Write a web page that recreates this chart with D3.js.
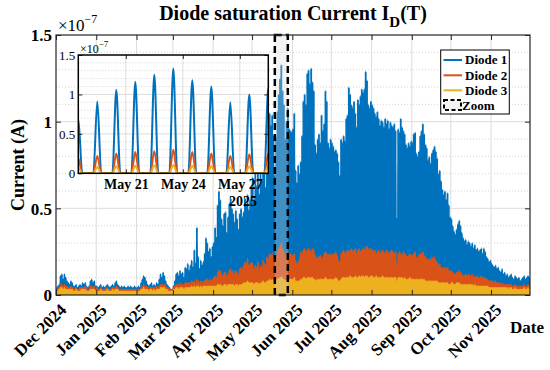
<!DOCTYPE html>
<html><head><meta charset="utf-8">
<script src="https://cdn.jsdelivr.net/npm/d3@7"></script>
<style>
body{margin:0;background:#fff}
svg{display:block}
svg text{font-family:"Liberation Serif" !important;fill:#000}
</style>
</head><body>
<svg id="chart" width="550" height="370"></svg>
<script>
// ---------------- data (current values in units of 1e-7 A, daily peak) ----------------
const monthLabels = ["Dec 2024","Jan 2025","Feb 2025","Mar 2025","Apr 2025","May 2025","Jun 2025","Jul 2025","Aug 2025","Sep 2025","Oct 2025","Nov 2025"];
const seriesNames = ["Diode 1","Diode 2","Diode 3"];
const diode1 = [
 [0.04,0.05,0.06,0.11,0.12,0.09,0.12,0.10,0.08,0.07,0.06,0.08,0.07,0.05,0.05,0.06,0.04,0.05,0.06,0.05,0.07,0.06,0.07,0.05,0.04,0.05,0.08,0.09,0.07,0.08,0.05],
 [0.05,0.04,0.05,0.06,0.04,0.05,0.04,0.05,0.06,0.05,0.04,0.05,0.06,0.05,0.07,0.08,0.06,0.05,0.04,0.05,0.04,0.05,0.04,0.04,0.05,0.04,0.05,0.04,0.04,0.05,0.04],
 [0.04,0.05,0.04,0.07,0.09,0.11,0.10,0.08,0.06,0.05,0.06,0.07,0.05,0.06,0.05,0.07,0.06,0.09,0.12,0.10,0.13,0.11,0.08,0.06,0.05,0.04,0.03,0.03],
 [0.05,0.08,0.12,0.13,0.11,0.14,0.12,0.13,0.10,0.16,0.15,0.18,0.14,0.17,0.20,0.16,0.26,0.18,0.39,0.22,0.15,0.20,0.17,0.19,0.24,0.33,0.30,0.25,0.27,0.22,0.28],
 [0.30,0.39,0.33,0.52,0.60,0.55,0.44,0.40,0.47,0.48,0.36,0.45,0.53,0.56,0.50,0.47,0.42,0.49,0.44,0.38,0.47,0.50,0.45,0.48,0.56,0.52,0.58,0.49,0.55,0.62],
 [0.68,0.55,0.72,0.63,0.80,0.58,0.75,0.66,0.85,0.70,0.62,0.88,0.80,1.05,0.98,1.04,0.92,0.69,0.91,1.06,1.16,1.25,1.33,1.18,1.10,0.90,1.00,1.08,0.96,0.95,0.94],
 [0.96,1.05,0.72,0.65,0.75,0.70,0.77,0.92,1.12,1.16,1.10,1.28,1.30,1.22,1.31,1.23,1.18,0.87,0.82,0.90,0.93,0.88,1.04,0.95,0.99,1.18,1.12,0.88,0.85,0.90],
 [0.88,0.86,0.83,0.84,0.82,0.77,0.69,0.90,0.88,0.92,0.89,1.02,1.04,1.20,1.16,1.10,1.08,1.12,1.05,0.97,1.13,1.10,1.15,1.19,1.17,1.19,1.29,1.24,1.10,1.08,1.12],
 [1.10,1.08,1.05,1.03,1.06,1.02,0.98,1.01,1.00,0.97,1.02,0.99,1.01,0.96,1.00,0.98,0.97,0.99,0.95,0.44,0.96,0.94,1.02,0.97,0.95,0.93,0.87,0.85,0.88,0.86,0.89],
 [0.88,0.93,0.94,0.82,0.80,0.83,0.92,0.95,0.99,0.93,0.87,0.85,0.78,0.80,0.76,0.82,0.84,0.86,0.83,0.79,0.70,0.72,0.66,0.61,0.58,0.60,0.55,0.59,0.52,0.45],
 [0.44,0.40,0.37,0.35,0.38,0.41,0.43,0.40,0.36,0.33,0.31,0.32,0.29,0.31,0.30,0.28,0.30,0.27,0.29,0.26,0.27,0.25,0.26,0.27,0.24,0.27,0.25,0.22,0.21,0.19,0.20],
 [0.18,0.17,0.16,0.17,0.15,0.16,0.14,0.13,0.15,0.12,0.13,0.11,0.12,0.10,0.11,0.12,0.10,0.09,0.11,0.10,0.09,0.10,0.08,0.09,0.10,0.11,0.09,0.10,0.11,0.10]
];
const diode2 = [
 [0.03,0.04,0.04,0.06,0.06,0.05,0.06,0.05,0.05,0.04,0.04,0.05,0.04,0.03,0.04,0.04,0.03,0.03,0.04,0.04,0.04,0.04,0.05,0.04,0.03,0.03,0.05,0.05,0.04,0.05,0.03],
 [0.04,0.03,0.03,0.04,0.03,0.03,0.03,0.04,0.04,0.03,0.03,0.03,0.04,0.04,0.04,0.05,0.04,0.03,0.03,0.03,0.03,0.03,0.03,0.03,0.03,0.03,0.03,0.03,0.03,0.03,0.03],
 [0.03,0.03,0.03,0.04,0.05,0.06,0.05,0.05,0.04,0.04,0.04,0.04,0.04,0.04,0.04,0.05,0.04,0.05,0.06,0.06,0.06,0.06,0.05,0.04,0.04,0.03,0.03,0.03],
 [0.04,0.05,0.06,0.06,0.06,0.07,0.06,0.06,0.06,0.07,0.07,0.07,0.07,0.07,0.08,0.07,0.08,0.07,0.09,0.08,0.07,0.08,0.07,0.08,0.08,0.09,0.09,0.08,0.09,0.08,0.09],
 [0.10,0.11,0.10,0.13,0.14,0.14,0.12,0.11,0.13,0.13,0.11,0.12,0.14,0.15,0.13,0.14,0.12,0.14,0.13,0.12,0.15,0.16,0.15,0.17,0.19,0.18,0.21,0.17,0.18,0.19],
 [0.18,0.15,0.17,0.16,0.19,0.15,0.17,0.16,0.20,0.18,0.17,0.22,0.21,0.24,0.23,0.24,0.22,0.19,0.22,0.25,0.27,0.28,0.30,0.27,0.25,0.22,0.24,0.25,0.23,0.24,0.23],
 [0.23,0.24,0.20,0.18,0.19,0.21,0.25,0.24,0.26,0.27,0.25,0.26,0.27,0.26,0.25,0.27,0.26,0.23,0.21,0.22,0.22,0.23,0.21,0.22,0.24,0.25,0.24,0.23,0.24,0.23],
 [0.24,0.23,0.24,0.25,0.23,0.20,0.19,0.24,0.25,0.26,0.24,0.25,0.26,0.25,0.26,0.27,0.25,0.26,0.27,0.24,0.26,0.27,0.25,0.26,0.27,0.26,0.28,0.28,0.27,0.26,0.27],
 [0.26,0.25,0.26,0.24,0.25,0.26,0.24,0.25,0.26,0.25,0.24,0.26,0.25,0.24,0.25,0.26,0.25,0.24,0.25,0.18,0.24,0.25,0.24,0.23,0.25,0.24,0.23,0.22,0.23,0.24,0.23],
 [0.23,0.24,0.25,0.22,0.21,0.23,0.24,0.24,0.25,0.23,0.22,0.21,0.20,0.21,0.20,0.22,0.21,0.22,0.20,0.19,0.17,0.18,0.16,0.16,0.15,0.16,0.15,0.16,0.14,0.14],
 [0.14,0.13,0.12,0.12,0.13,0.13,0.14,0.13,0.12,0.11,0.11,0.12,0.11,0.12,0.11,0.11,0.12,0.10,0.11,0.10,0.11,0.10,0.10,0.11,0.10,0.10,0.10,0.09,0.09,0.08,0.08],
 [0.08,0.08,0.07,0.08,0.07,0.07,0.07,0.06,0.07,0.06,0.06,0.06,0.06,0.06,0.06,0.06,0.05,0.05,0.06,0.05,0.05,0.05,0.05,0.05,0.05,0.06,0.05,0.05,0.06,0.05]
];
const diode3 = [
 [0.02,0.02,0.03,0.04,0.04,0.03,0.04,0.03,0.03,0.03,0.03,0.03,0.03,0.02,0.02,0.03,0.02,0.02,0.02,0.03,0.03,0.03,0.03,0.02,0.02,0.02,0.03,0.03,0.03,0.03,0.02],
 [0.02,0.02,0.02,0.03,0.02,0.02,0.02,0.02,0.03,0.02,0.02,0.02,0.03,0.02,0.03,0.03,0.03,0.02,0.02,0.02,0.02,0.02,0.02,0.02,0.02,0.02,0.02,0.02,0.02,0.02,0.02],
 [0.02,0.02,0.02,0.03,0.03,0.04,0.03,0.03,0.03,0.02,0.03,0.03,0.02,0.03,0.02,0.03,0.03,0.03,0.04,0.04,0.04,0.04,0.03,0.03,0.02,0.02,0.02,0.02],
 [0.03,0.03,0.04,0.04,0.03,0.04,0.04,0.04,0.03,0.04,0.04,0.04,0.04,0.04,0.05,0.04,0.05,0.04,0.05,0.05,0.04,0.05,0.04,0.05,0.05,0.05,0.05,0.05,0.05,0.05,0.05],
 [0.05,0.05,0.05,0.06,0.06,0.06,0.05,0.05,0.06,0.06,0.05,0.06,0.06,0.06,0.06,0.06,0.05,0.06,0.06,0.05,0.06,0.06,0.06,0.07,0.07,0.07,0.08,0.07,0.07,0.07],
 [0.07,0.06,0.07,0.07,0.07,0.06,0.07,0.07,0.08,0.07,0.07,0.08,0.08,0.09,0.08,0.09,0.08,0.07,0.08,0.09,0.095,0.10,0.105,0.095,0.09,0.08,0.085,0.09,0.09,0.09,0.09],
 [0.09,0.10,0.08,0.08,0.08,0.08,0.09,0.09,0.10,0.10,0.09,0.10,0.10,0.10,0.10,0.10,0.09,0.09,0.08,0.09,0.09,0.09,0.09,0.09,0.09,0.10,0.09,0.09,0.09,0.09],
 [0.09,0.09,0.09,0.10,0.09,0.08,0.08,0.09,0.10,0.10,0.10,0.10,0.10,0.10,0.11,0.10,0.10,0.10,0.11,0.10,0.10,0.11,0.10,0.11,0.11,0.10,0.11,0.11,0.10,0.10,0.11],
 [0.11,0.10,0.10,0.11,0.10,0.10,0.10,0.10,0.11,0.10,0.10,0.10,0.10,0.10,0.10,0.10,0.10,0.10,0.10,0.08,0.10,0.10,0.10,0.10,0.09,0.10,0.09,0.09,0.09,0.10,0.09],
 [0.09,0.09,0.09,0.09,0.09,0.09,0.09,0.09,0.09,0.09,0.08,0.08,0.08,0.08,0.08,0.08,0.08,0.08,0.08,0.08,0.07,0.07,0.07,0.07,0.07,0.07,0.07,0.07,0.06,0.06],
 [0.07,0.07,0.06,0.06,0.07,0.07,0.07,0.06,0.06,0.06,0.06,0.06,0.06,0.06,0.06,0.06,0.06,0.05,0.06,0.05,0.05,0.05,0.05,0.05,0.05,0.05,0.05,0.05,0.05,0.04,0.04],
 [0.04,0.04,0.04,0.04,0.04,0.04,0.04,0.04,0.04,0.04,0.04,0.04,0.04,0.03,0.04,0.04,0.03,0.03,0.04,0.03,0.03,0.03,0.03,0.03,0.03,0.04,0.03,0.03,0.04,0.03]
];
// daily cycle sample points: hour of day and fraction of the day's peak (night = 0)
const dayHours = [0, 7, 12, 17];
const dayFraction = [0, 0, 1, 0];
const yTickValues = [0, 0.5, 1, 1.5];
const yTickLabels = ["0", "0.5", "1", "1.5"];
const insetTickDates = ["2025-05-21", "2025-05-24", "2025-05-27"];
const insetTickLabels = ["May 21", "May 24", "May 27"];
const zoomRange = ["2025-05-18T12:00:00Z", "2025-05-28T12:00:00Z"];
const colors = ["#0072BD", "#D95319", "#EDB120"];

// ---------------- helpers ----------------
const HOUR = 3600e3, DAY = 24 * HOUR;
const t0 = Date.UTC(2024, 11, 1), t1 = Date.UTC(2025, 11, 1);
function buildPoints(months) {
  const pts = [];
  months.forEach((vals, m) => {
    vals.forEach((v, d) => {
      const day = Date.UTC(2024, 11 + m, d + 1);
      dayHours.forEach((h, k) => pts.push([day + h * HOUR, v * dayFraction[k]]));
    });
  });
  pts.push([t1, 0]);
  return pts;
}
const series = [diode1, diode2, diode3].map(buildPoints);
const FONT = '"Liberation Serif"';

const svg = d3.select("#chart");
const M = {l: 56, r: 530, t: 35, b: 295};
const x = d3.scaleUtc().domain([t0, t1]).range([M.l, M.r]);
const y = d3.scaleLinear().domain([0, 1.5]).range([M.b, M.t]);
const defs = svg.append("defs");
defs.append("clipPath").attr("id", "clipMain").append("rect")
  .attr("x", M.l).attr("y", M.t).attr("width", M.r - M.l).attr("height", M.b - M.t);
const minorVals = d3.range(1, 15).map(i => i / 10).filter(v => Math.abs(v * 2 - Math.round(v * 2)) > 1e-6);

// grid
const grid = svg.append("g");
const monthDates = monthLabels.map((_, i) => Date.UTC(2024, 11 + i, 1));
grid.selectAll(".minor").data(minorVals)
  .join("line").attr("x1", M.l).attr("x2", M.r).attr("y1", d => y(d)).attr("y2", d => y(d))
  .attr("stroke", "#c8c8c8").attr("stroke-width", 0.8).attr("stroke-dasharray", "1,2");
grid.selectAll(".hmaj").data(yTickValues.slice(1, 3)).join("line")
  .attr("x1", M.l).attr("x2", M.r).attr("y1", d => y(d)).attr("y2", d => y(d))
  .attr("stroke", "#dcdcdc").attr("stroke-width", 1);
grid.selectAll(".vmaj").data(monthDates.slice(1)).join("line")
  .attr("x1", d => x(d)).attr("x2", d => x(d)).attr("y1", M.t).attr("y2", M.b)
  .attr("stroke", "#dcdcdc").attr("stroke-width", 1);

// data main
const lineMain = d3.line().x(d => x(d[0])).y(d => y(d[1])).curve(d3.curveMonotoneX);
const gMain = svg.append("g").attr("clip-path", "url(#clipMain)");
series.forEach((s, i) => {
  gMain.append("path").attr("d", lineMain(s)).attr("fill", "none")
    .attr("stroke", colors[i]).attr("stroke-width", 1.9).attr("stroke-linejoin", "round");
});

// zoom rectangle
const zr = zoomRange.map(d => new Date(d).getTime());
svg.append("rect").attr("x", x(zr[0])).attr("y", M.t).attr("width", x(zr[1]) - x(zr[0])).attr("height", M.b - M.t)
  .attr("fill", "rgb(215,215,215)").attr("fill-opacity", 0.3)
  .attr("stroke", "#000").attr("stroke-width", 2.5).attr("stroke-dasharray", "7,4");

// main axes ticks
const axG = svg.append("g");
const xb = axG.append("g").attr("transform", `translate(0,${M.b})`)
  .call(d3.axisBottom(x).tickValues(monthDates).tickSize(-5).tickFormat((d, i) => monthLabels[i]));
xb.selectAll("text").attr("font-size", 17).attr("font-weight", "bold")
  .attr("text-anchor", "end").attr("dy", 0).attr("y", 0)
  .attr("transform", "translate(11,16) rotate(-45)");
axG.append("g").attr("transform", `translate(0,${M.t})`)
  .call(d3.axisTop(x).tickValues(monthDates).tickSize(-5).tickFormat(""));
const yl = axG.append("g").attr("transform", `translate(${M.l},0)`)
  .call(d3.axisLeft(y).tickValues(yTickValues).tickSize(-5).tickPadding(4).tickFormat((d, i) => yTickLabels[i]));
yl.selectAll("text").attr("font-size", 17).attr("font-weight", "bold").attr("dy", "0.35em");
axG.append("g").attr("transform", `translate(${M.r},0)`)
  .call(d3.axisRight(y).tickValues(yTickValues).tickSize(-5).tickFormat(""));
axG.selectAll(".domain").remove();
axG.selectAll("g").attr("font-family", FONT);
axG.selectAll(".tick line").attr("stroke", "#262626");
svg.append("rect").attr("x", M.l).attr("y", M.t).attr("width", M.r - M.l).attr("height", M.b - M.t)
  .attr("fill", "none").attr("stroke", "#262626").attr("stroke-width", 1.2);

// exponent label main
const ex = svg.append("text").attr("x", 58).attr("y", 31).attr("font-size", 17).attr("font-family", FONT);
ex.append("tspan").text("×10");
ex.append("tspan").attr("dy", -8).attr("font-size", 12).text("−7");

// title
const ti = svg.append("text").attr("x", (M.l + M.r) / 2).attr("y", 20).attr("text-anchor", "middle")
  .attr("font-size", 20).attr("font-weight", "bold").attr("font-family", FONT);
ti.append("tspan").text("Diode saturation Current I");
ti.append("tspan").attr("font-size", 15).attr("dy", 7).text("D");
ti.append("tspan").attr("dy", -7).text("(T)");

// axis labels
svg.append("text").attr("transform", "translate(24,165) rotate(-90)").attr("text-anchor", "middle")
  .attr("font-size", 18).attr("font-weight", "bold").attr("font-family", FONT).text("Current (A)");
svg.append("text").attr("x", 527).attr("y", 333).attr("text-anchor", "middle")
  .attr("font-size", 17).attr("font-weight", "bold").attr("font-family", FONT).text("Date");

// ---------------- inset ----------------
const I = {l: 78.3, r: 268.3, t: 55, b: 173.3};
const xi = d3.scaleUtc().domain(zr).range([I.l, I.r]);
const yi = d3.scaleLinear().domain([0, 1.5]).range([I.b, I.t]);
defs.append("clipPath").attr("id", "clipInset").append("rect")
  .attr("x", I.l).attr("y", I.t).attr("width", I.r - I.l).attr("height", I.b - I.t);
const gi = svg.append("g").attr("font-family", FONT);
gi.append("rect").attr("x", I.l).attr("y", I.t).attr("width", I.r - I.l).attr("height", I.b - I.t).attr("fill", "#fff");
const itDates = insetTickDates.map(d => Date.UTC(+d.slice(0, 4), +d.slice(5, 7) - 1, +d.slice(8, 10)));
gi.selectAll(".iminor").data(minorVals)
  .join("line").attr("x1", I.l).attr("x2", I.r).attr("y1", d => yi(d)).attr("y2", d => yi(d))
  .attr("stroke", "#c8c8c8").attr("stroke-width", 0.8).attr("stroke-dasharray", "1,2");
gi.selectAll(".ihmaj").data(yTickValues.slice(1, 3)).join("line")
  .attr("x1", I.l).attr("x2", I.r).attr("y1", d => yi(d)).attr("y2", d => yi(d))
  .attr("stroke", "#dcdcdc").attr("stroke-width", 1);
gi.selectAll(".ivmaj").data(itDates).join("line")
  .attr("x1", d => xi(d)).attr("x2", d => xi(d)).attr("y1", I.t).attr("y2", I.b)
  .attr("stroke", "#dcdcdc").attr("stroke-width", 1);
const lineInset = d3.line().x(d => xi(d[0])).y(d => yi(d[1])).curve(d3.curveMonotoneX);
const gid = gi.append("g").attr("clip-path", "url(#clipInset)");
series.forEach((s, i) => {
  const sub = s.filter(p => p[0] >= zr[0] - 2 * DAY && p[0] <= zr[1] + 2 * DAY);
  gid.append("path").attr("d", lineInset(sub)).attr("fill", "none")
    .attr("stroke", colors[i]).attr("stroke-width", 2).attr("stroke-linejoin", "round");
});
const ixb = gi.append("g").attr("transform", `translate(0,${I.b})`)
  .call(d3.axisBottom(xi).tickValues(itDates).tickSize(-4).tickPadding(6).tickFormat((d, i) => insetTickLabels[i]));
ixb.selectAll("text").attr("font-size", 14).attr("font-weight", "bold").attr("dy", "0.71em");
gi.append("g").attr("transform", `translate(0,${I.t})`)
  .call(d3.axisTop(xi).tickValues(itDates).tickSize(-4).tickFormat(""));
const iyl = gi.append("g").attr("transform", `translate(${I.l},0)`)
  .call(d3.axisLeft(yi).tickValues(yTickValues).tickSize(-4).tickPadding(3).tickFormat((d, i) => yTickLabels[i]));
iyl.selectAll("text").attr("font-size", 13);
gi.append("g").attr("transform", `translate(${I.r},0)`)
  .call(d3.axisRight(yi).tickValues(yTickValues).tickSize(-4).tickFormat(""));
gi.selectAll(".domain").remove();
gi.selectAll("g").attr("font-family", FONT);
gi.selectAll(".tick line").attr("stroke", "#262626");
gi.append("rect").attr("x", I.l).attr("y", I.t).attr("width", I.r - I.l).attr("height", I.b - I.t)
  .attr("fill", "none").attr("stroke", "#000").attr("stroke-width", 1.5);
gi.append("text").attr("x", 243).attr("y", 206).attr("text-anchor", "middle")
  .attr("font-size", 14).attr("font-weight", "bold").text("2025");
const iex = gi.append("text").attr("x", 80).attr("y", 53).attr("font-size", 12);
iex.append("tspan").text("×10");
iex.append("tspan").attr("dy", -6).attr("font-size", 9).text("−7");

// ---------------- legend ----------------
const lg = svg.append("g").attr("font-family", FONT);
lg.append("rect").attr("x", 440.7).attr("y", 50).attr("width", 68.6).attr("height", 64)
  .attr("fill", "#fff").attr("stroke", "#000").attr("stroke-width", 1);
const rowsY = [60, 75.3, 90.3, 105.3];
seriesNames.forEach((n, i) => {
  lg.append("line").attr("x1", 443.5).attr("x2", 462).attr("y1", rowsY[i]).attr("y2", rowsY[i])
    .attr("stroke", colors[i]).attr("stroke-width", 2);
  lg.append("text").attr("x", 465).attr("y", rowsY[i]).attr("dy", "0.33em")
    .attr("font-size", 13).attr("font-weight", "bold").text(n);
});
lg.append("rect").attr("x", 444).attr("y", 100).attr("width", 17).attr("height", 10)
  .attr("fill", "rgb(215,215,215)").attr("fill-opacity", 0.3)
  .attr("stroke", "#000").attr("stroke-width", 2).attr("stroke-dasharray", "4,2.5");
lg.append("text").attr("x", 462).attr("y", rowsY[3]).attr("dy", "0.33em")
  .attr("font-size", 13).attr("font-weight", "bold").text("Zoom");
</script>
</body></html>
